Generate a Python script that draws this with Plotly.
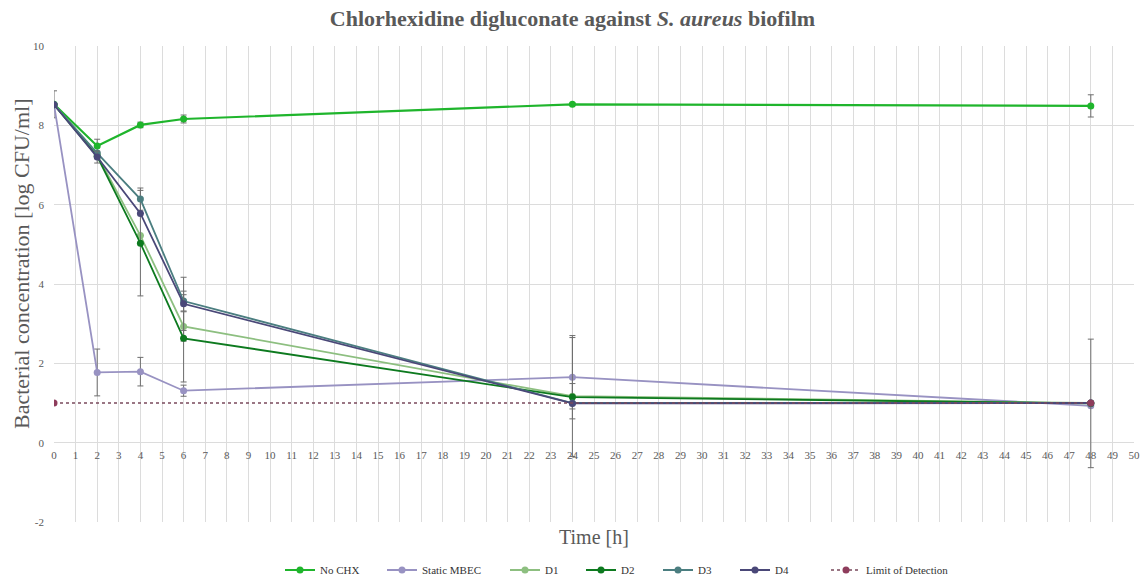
import plotly.graph_objects as go

NaN = float("nan")

time = [0, 2, 4, 6, 24, 48]

no_chx = [8.53, 7.48, 8.01, 8.16, 8.53, 8.49]
no_chx_err = [0.34, 0.17, 0.07, 0.10, 0.03, 0.28]

static_mbec = [8.52, 1.77, 1.79, 1.31, 1.65, 0.93]
static_mbec_err = [NaN, 0.59, 0.36, 0.14, 1.05, NaN]

d1 = [8.52, 7.25, 5.22, 2.93, 1.17, 1.0]
d1_err = [NaN, NaN, NaN, 0.37, 0.32, NaN]

d2 = [8.52, 7.22, 5.03, 2.63, 1.15, 0.99]
d2_err = [NaN, NaN, 1.33, 1.10, 1.50, 1.62]

d3 = [8.52, 7.30, 6.14, 3.57, 1.0, 1.0]
d3_err = [NaN, NaN, 0.28, 0.25, NaN, NaN]

d4 = [8.52, 7.20, 5.78, 3.50, 0.99, 1.0]
d4_err = [NaN, 0.15, NaN, 0.67, NaN, NaN]

lod_x = [0, 48]
lod_y = [1, 1]

x_ticks = list(range(0, 51))
y_ticks = [-2, 0, 2, 4, 6, 8, 10]

FONT = "Liberation Serif"
GRAY = "#595959"
ERR = "#6e6e6e"
W, H = 1145, 579
ML, MR, MT, MB = 54, 11, 46, 57
PW, PH = W - ML - MR, H - MT - MB

series = [
    ("No CHX", no_chx, no_chx_err, "#1fb52c", 2.2),
    ("Static MBEC", static_mbec, static_mbec_err, "#9892c2", 1.8),
    ("D1", d1, d1_err, "#8dbf80", 1.8),
    ("D2", d2, d2_err, "#0d7a1f", 1.8),
    ("D3", d3, d3_err, "#4b7e80", 1.8),
    ("D4", d4, d4_err, "#4a4878", 1.8),
]

legend_names = ["legend", "legend2", "legend3", "legend4", "legend5", "legend6", "legend7"]
legend_px = [280, 382, 505, 581, 658, 735, 826]

fig = go.Figure()
for i, (name, ys, errs, col, w) in enumerate(series):
    fig.add_trace(go.Scatter(
        x=time, y=ys, name=name, mode="lines+markers",
        line=dict(color=col, width=w),
        marker=dict(color=col, size=7),
        error_y=dict(type="data", array=errs, visible=True,
                     color=ERR, thickness=1, width=3),
        legend=legend_names[i], showlegend=True,
    ))

fig.add_trace(go.Scatter(
    x=lod_x, y=lod_y, name="Limit of Detection", mode="lines+markers",
    line=dict(color="#7a4a5c", width=1.3, dash="dot"),
    marker=dict(color="#8e3d5c", size=7),
    legend=legend_names[6], showlegend=True,
))

legend_common = dict(
    orientation="h", xanchor="left", xref="container",
    y=(H - 570) / H, yref="container", yanchor="middle",
    font=dict(family=FONT, size=11, color="#333333"),
    itemwidth=30, bgcolor="rgba(0,0,0,0)", visible=True,
)
legend_layout = {}
for name, px in zip(legend_names, legend_px):
    legend_layout[name] = dict(legend_common, x=px / W)

fig.update_layout(
    width=W, height=H, showlegend=True,
    margin=dict(l=ML, r=MR, t=MT, b=MB, autoexpand=False),
    plot_bgcolor="white", paper_bgcolor="white",
    font=dict(family=FONT, color=GRAY, size=11),
    title=dict(
        text="<b>Chlorhexidine digluconate against <i>S. aureus</i> biofilm</b>",
        x=0.5, xref="container", xanchor="center",
        y=1 - 18 / H, yref="container", yanchor="middle",
        font=dict(family=FONT, size=22, color=GRAY),
    ),
    xaxis=dict(
        range=[0, 50], tickvals=x_ticks, ticktext=[str(v) for v in x_ticks],
        showgrid=True, gridcolor="#dcdcdc", gridwidth=1,
        zeroline=False, showline=False, ticks="", tickangle=0,
        anchor="free", position=2 / 12, ticklabelstandoff=4,
        tickfont=dict(family=FONT, size=11, color=GRAY),
    ),
    yaxis=dict(
        range=[-2, 10], tickvals=y_ticks, ticktext=[str(v) for v in y_ticks],
        showgrid=True, gridcolor="#dcdcdc", gridwidth=1,
        zeroline=False, showline=False, ticks="", ticklabelstandoff=9,
        tickfont=dict(family=FONT, size=11, color=GRAY),
    ),
    annotations=[
        dict(
            text="Time [h]", x=0.5, xref="paper", xanchor="center",
            y=-(537 - (H - MB)) / PH, yref="paper", yanchor="middle", showarrow=False,
            font=dict(family=FONT, size=20, color=GRAY),
        ),
        dict(
            text="Bacterial concentration [log CFU/ml]", textangle=-90,
            x=(21 - ML) / PW, xref="paper", xanchor="center",
            y=((H - MB) - 264) / PH, yref="paper", yanchor="middle", showarrow=False,
            font=dict(family=FONT, size=22, color=GRAY),
        ),
    ],
    **legend_layout,
)

fig.write_html("out.html")
